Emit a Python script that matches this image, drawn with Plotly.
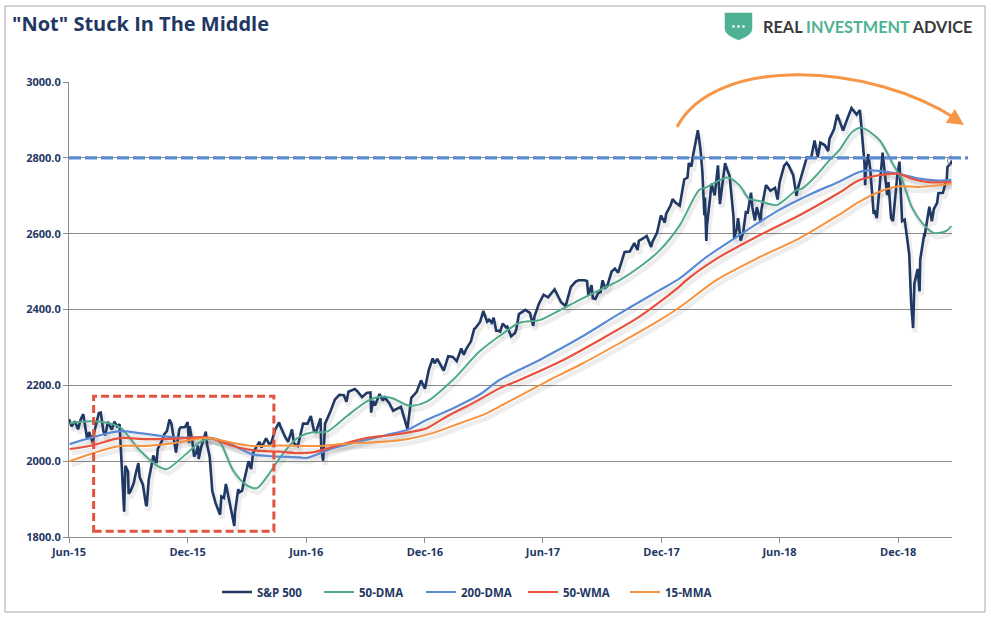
import plotly.graph_objects as go
import pandas as pd

# ---------------- DATA ----------------
sp_dates = [
    "2015-06-01","2015-06-05","2015-06-10","2015-06-15","2015-06-19","2015-06-23","2015-06-29","2015-07-02",
    "2015-07-08","2015-07-10","2015-07-17","2015-07-20","2015-07-24","2015-07-27","2015-07-31","2015-08-06",
    "2015-08-10","2015-08-14","2015-08-18","2015-08-20","2015-08-21","2015-08-24","2015-08-25","2015-08-27",
    "2015-08-31","2015-09-01","2015-09-04","2015-09-09","2015-09-11","2015-09-16","2015-09-18","2015-09-23",
    "2015-09-28","2015-09-29","2015-10-02","2015-10-07","2015-10-09","2015-10-14","2015-10-16","2015-10-22",
    "2015-10-26","2015-10-30","2015-11-03","2015-11-06","2015-11-13","2015-11-18","2015-11-20","2015-11-27",
    "2015-12-01","2015-12-03","2015-12-04","2015-12-08","2015-12-11","2015-12-14","2015-12-17","2015-12-18",
    "2015-12-22","2015-12-29","2015-12-31",
    "2016-01-04","2016-01-07","2016-01-08","2016-01-13","2016-01-15","2016-01-20","2016-01-22","2016-01-26",
    "2016-01-29","2016-02-02","2016-02-05","2016-02-08","2016-02-11","2016-02-12","2016-02-17","2016-02-19",
    "2016-02-23","2016-02-26","2016-03-01","2016-03-04","2016-03-08","2016-03-11","2016-03-17","2016-03-21",
    "2016-03-24","2016-03-31","2016-04-05","2016-04-08","2016-04-14","2016-04-20","2016-04-22","2016-04-29",
    "2016-05-04","2016-05-10","2016-05-13","2016-05-19","2016-05-24","2016-05-27","2016-06-03","2016-06-08",
    "2016-06-13","2016-06-16","2016-06-23","2016-06-24","2016-06-27","2016-06-30","2016-07-08","2016-07-12",
    "2016-07-15","2016-07-22","2016-07-29","2016-08-02","2016-08-05","2016-08-15","2016-08-19","2016-08-26",
    "2016-09-02","2016-09-08","2016-09-09","2016-09-12","2016-09-15","2016-09-22","2016-09-27","2016-09-30",
    "2016-10-07","2016-10-13","2016-10-21","2016-10-25","2016-10-28","2016-11-02","2016-11-04","2016-11-08",
    "2016-11-10","2016-11-18","2016-11-25","2016-12-01","2016-12-07","2016-12-13","2016-12-16","2016-12-20",
    "2016-12-30",
    "2017-01-06","2017-01-13","2017-01-19","2017-01-26","2017-01-30","2017-02-03","2017-02-10","2017-02-15",
    "2017-02-17","2017-02-24","2017-03-01","2017-03-07","2017-03-10","2017-03-14","2017-03-17","2017-03-21",
    "2017-03-24","2017-03-27","2017-03-31","2017-04-05","2017-04-07","2017-04-13","2017-04-19","2017-04-21",
    "2017-04-25","2017-05-05","2017-05-12","2017-05-17","2017-05-19","2017-05-26","2017-06-02","2017-06-09",
    "2017-06-19","2017-06-23","2017-06-29","2017-07-06","2017-07-14","2017-07-21","2017-07-26","2017-08-04",
    "2017-08-08","2017-08-10","2017-08-15","2017-08-17","2017-08-21","2017-08-25","2017-08-29","2017-09-01",
    "2017-09-05","2017-09-08","2017-09-15","2017-09-20","2017-09-25","2017-09-29","2017-10-05","2017-10-13",
    "2017-10-20","2017-10-25","2017-10-27","2017-11-03","2017-11-08","2017-11-15","2017-11-17","2017-11-24",
    "2017-11-30","2017-12-06","2017-12-08","2017-12-15","2017-12-18","2017-12-22","2017-12-29",
    "2018-01-05","2018-01-10","2018-01-12","2018-01-16","2018-01-19","2018-01-26","2018-01-30","2018-02-02",
    "2018-02-05","2018-02-06","2018-02-08","2018-02-09","2018-02-14","2018-02-16","2018-02-21","2018-02-26",
    "2018-03-01","2018-03-02","2018-03-09","2018-03-13","2018-03-16","2018-03-22","2018-03-23","2018-03-27",
    "2018-03-29","2018-04-02","2018-04-06","2018-04-10","2018-04-13","2018-04-18","2018-04-20","2018-04-24",
    "2018-04-27","2018-05-03","2018-05-04","2018-05-11","2018-05-18","2018-05-25","2018-05-29","2018-06-01",
    "2018-06-08","2018-06-12","2018-06-15","2018-06-22","2018-06-27","2018-06-29","2018-07-06","2018-07-13",
    "2018-07-20","2018-07-25","2018-07-30","2018-08-03","2018-08-10","2018-08-15","2018-08-17","2018-08-24",
    "2018-08-29","2018-09-07","2018-09-14","2018-09-20","2018-09-28","2018-10-03","2018-10-05","2018-10-10",
    "2018-10-11","2018-10-12","2018-10-16","2018-10-19","2018-10-24","2018-10-26","2018-10-29","2018-11-02",
    "2018-11-07","2018-11-09","2018-11-14","2018-11-16","2018-11-20","2018-11-23","2018-11-30","2018-12-03",
    "2018-12-07","2018-12-11","2018-12-14","2018-12-18","2018-12-21","2018-12-24","2018-12-26","2018-12-28",
    "2018-12-31",
    "2019-01-03","2019-01-04","2019-01-10","2019-01-11","2019-01-18","2019-01-22","2019-01-25","2019-01-30",
    "2019-02-01","2019-02-07","2019-02-08","2019-02-14","2019-02-15","2019-02-20","2019-02-22",
]
sp_values = [
    2111,2092,2105,2084,2110,2124,2058,2077,
    2047,2077,2127,2128,2079,2068,2104,2083,
    2104,2092,2097,2035,1971,1893,1867,1988,
    1972,1914,1921,1943,1961,1995,1958,1938,
    1882,1884,1951,1995,2015,1995,2033,2052,
    2071,2079,2110,2099,2023,2083,2089,2090,
    2103,2049,2092,2056,2012,2022,2041,2006,
    2038,2078,2044,
    2012,1943,1922,1890,1880,1859,1907,1903,
    1940,1903,1880,1853,1829,1865,1926,1918,
    1922,1948,1978,2000,1979,2022,2041,2051,
    2036,2060,2045,2048,2083,2102,2092,2065,
    2051,2084,2047,2040,2077,2099,2099,2119,
    2079,2077,2113,2037,2001,2099,2130,2152,
    2162,2175,2174,2157,2183,2190,2184,2169,
    2180,2181,2128,2159,2147,2177,2160,2168,
    2153,2133,2141,2143,2126,2098,2085,2140,
    2167,2182,2213,2191,2241,2271,2258,2270,
    2239,
    2277,2275,2264,2297,2281,2297,2316,2349,
    2351,2367,2396,2368,2373,2365,2378,2344,
    2344,2342,2363,2353,2355,2329,2338,2349,
    2388,2399,2391,2357,2382,2416,2439,2432,
    2453,2438,2419,2409,2459,2473,2477,2477,
    2475,2438,2464,2430,2428,2443,2446,2477,
    2457,2461,2500,2508,2497,2519,2552,2553,
    2575,2557,2581,2588,2594,2565,2579,2602,
    2648,2629,2652,2675,2691,2683,2674,
    2743,2748,2786,2777,2810,2873,2823,2762,
    2649,2695,2581,2620,2698,2732,2701,2780,
    2678,2691,2786,2765,2752,2644,2588,2613,
    2641,2582,2604,2657,2656,2708,2670,2635,
    2670,2630,2663,2728,2713,2721,2690,2735,
    2779,2787,2780,2755,2700,2718,2760,2801,
    2802,2846,2803,2840,2833,2818,2850,2875,
    2914,2872,2905,2931,2914,2926,2886,2786,
    2728,2767,2810,2768,2656,2658,2641,2723,
    2814,2781,2702,2736,2641,2633,2760,2790,
    2633,2637,2600,2546,2417,2351,2468,2486,
    2507,
    2448,2532,2597,2596,2671,2633,2665,2681,
    2707,2707,2708,2746,2776,2785,2793,
]

dma50_dates = [
    "2015-06-02","2015-07-08","2015-08-18","2015-09-18","2015-10-19","2015-10-30","2015-11-30","2015-12-20",
    "2016-01-09","2016-01-20","2016-02-09","2016-03-01","2016-03-17","2016-04-01","2016-04-21","2016-05-11",
    "2016-05-22","2016-06-11","2016-07-03","2016-08-02","2016-09-02","2016-09-22","2016-10-12","2016-11-03",
    "2016-11-12","2016-12-04","2017-01-13","2017-02-23","2017-03-26","2017-04-26","2017-05-27","2017-06-27",
    "2017-07-27","2017-08-27","2017-09-27","2017-10-28","2017-11-28","2017-12-29","2018-01-28","2018-02-08",
    "2018-03-12","2018-03-31","2018-04-15","2018-05-01","2018-05-27","2018-06-11","2018-06-27","2018-07-06",
    "2018-07-28","2018-08-17","2018-09-01","2018-09-21","2018-10-06","2018-11-02","2018-11-22","2018-12-07",
    "2018-12-22","2019-01-07","2019-01-25","2019-02-13","2019-02-21",
]
dma50_values = [
    2100,2105,2090,2029,1984,1979,2021,2050,
    2060,2050,1976,1937,1929,1958,2008,2050,
    2065,2076,2078,2118,2157,2170,2166,2148,
    2146,2157,2214,2289,2330,2365,2372,2398,
    2425,2451,2477,2512,2556,2622,2715,2722,
    2748,2728,2692,2686,2675,2692,2715,2719,
    2754,2794,2820,2868,2879,2847,2786,2741,
    2670,2628,2602,2607,2620,
]

dma200_dates = [
    "2015-06-02","2015-08-18","2015-09-18","2015-11-08","2016-01-09","2016-02-09","2016-03-10","2016-04-10",
    "2016-05-22","2016-06-01","2016-07-12","2016-08-22","2016-10-03","2016-11-03","2016-12-04","2017-01-13",
    "2017-02-23","2017-03-26","2017-05-27","2017-07-27","2017-09-27","2017-11-28","2017-12-29","2018-02-08",
    "2018-03-31","2018-05-31","2018-07-21","2018-09-01","2018-10-01","2018-10-16","2018-12-02","2019-01-02",
    "2019-02-02","2019-02-21",
]
dma200_values = [
    2045,2079,2074,2063,2060,2042,2018,2013,
    2010,2008,2034,2052,2069,2082,2109,2139,
    2175,2214,2267,2324,2389,2451,2482,2538,
    2596,2662,2706,2737,2762,2767,2758,2745,
    2740,2742,
]

wma50_dates = [
    "2015-06-02","2015-07-08","2015-08-18","2015-09-29","2015-11-30","2015-12-30","2016-02-09","2016-03-10",
    "2016-04-21","2016-05-22","2016-06-11","2016-07-22","2016-09-02","2016-10-12","2016-11-12","2016-12-04",
    "2017-01-04","2017-02-13","2017-03-26","2017-04-26","2017-06-27","2017-08-27","2017-10-28","2017-12-29",
    "2018-01-08","2018-02-28","2018-05-01","2018-07-01","2018-09-01","2018-10-01","2018-11-01","2018-12-02",
    "2018-12-22","2019-01-17","2019-02-21",
]
wma50_values = [
    2032,2042,2061,2058,2061,2063,2040,2029,
    2025,2021,2023,2043,2061,2069,2078,2087,
    2118,2153,2192,2214,2262,2319,2381,2461,
    2477,2538,2596,2648,2708,2740,2754,2758,
    2745,2736,2736,
]

mma15_dates = [
    "2015-06-02","2015-07-08","2015-08-18","2015-09-29","2015-11-08","2015-12-30","2016-02-09","2016-03-10",
    "2016-04-21","2016-06-17","2016-08-02","2016-10-03","2016-11-03","2016-12-13","2017-01-24","2017-03-06",
    "2017-03-26","2017-06-11","2017-07-27","2017-09-27","2017-11-28","2017-12-29","2018-02-23","2018-05-01",
    "2018-07-01","2018-09-01","2018-10-01","2018-11-01","2018-12-02","2019-01-02","2019-02-21",
]
mma15_values = [
    2000,2021,2040,2040,2047,2061,2048,2040,
    2041,2040,2046,2052,2058,2074,2100,2126,
    2144,2214,2253,2311,2372,2406,2477,2538,
    2587,2650,2683,2710,2725,2723,2732,
]

y_ticks = [1800, 2000, 2200, 2400, 2600, 2800, 3000]
resistance_level = 2800
box_dates = ["2015-07-09", "2016-04-12"]
box_levels = [1815, 2171]

series = [
    ("S&P 500", sp_dates, sp_values, "#1F3864", 2.6, "linear"),
    ("50-DMA", dma50_dates, dma50_values, "#4FA98B", 2.0, "spline"),
    ("200-DMA", dma200_dates, dma200_values, "#5B8AD4", 2.2, "spline"),
    ("50-WMA", wma50_dates, wma50_values, "#E8513C", 2.2, "spline"),
    ("15-MMA", mma15_dates, mma15_values, "#F7923F", 2.0, "spline"),
]

# ---------------- LAYOUT GEOMETRY ----------------
W, H = 991, 621
L, R, T, B = 69, 39, 82, 84
PW, PH = W - L - R, H - T - B
X0, X1 = pd.Timestamp("2015-06-01"), pd.Timestamp("2019-02-22")
Y0, Y1 = 1800, 3000
# drop-shadow offset (pixels)
SX, SY = 2, 4
dpp = (X1 - X0) / PW
upp = (Y1 - Y0) / PH
xr_sh = [(X0 - dpp * SX).strftime("%Y-%m-%d %H:%M:%S"), (X1 - dpp * SX).strftime("%Y-%m-%d %H:%M:%S")]
yr_sh = [Y0 + upp * SY, Y1 + upp * SY]


def px(x):
    return (x - L) / PW


def py(y):
    return (H - B - y) / PH


NAVY = "#1F3864"
FONT = "Open Sans"

fig = go.Figure()

# shadows (base, invisible axes)
for name, xs, ys, col, w, shp in series:
    fig.add_trace(go.Scatter(
        x=xs, y=ys, mode="lines", xaxis="x", yaxis="y", showlegend=False, hoverinfo="skip",
        line=dict(color="rgba(80,80,80,0.10)", width=w + 2.5, shape=shp, smoothing=0.8 if shp == "spline" else None),
    ))

# main lines
for name, xs, ys, col, w, shp in series:
    fig.add_trace(go.Scatter(
        x=xs, y=ys, mode="lines", name=name, xaxis="x2", yaxis="y2",
        line=dict(color=col, width=w, shape=shp, smoothing=0.8 if shp == "spline" else None),
    ))

# end-point circle
fig.add_trace(go.Scatter(
    x=[sp_dates[-1]], y=[sp_values[-1]], mode="markers", xaxis="x2", yaxis="y2", showlegend=False,
    marker=dict(size=9, color="rgba(255,255,255,0)", line=dict(color="#8a8a8a", width=1.2)),
))

shapes = []
# resistance line
shapes.append(dict(type="line", xref="paper", yref="y2", x0=0, x1=px(968), y0=resistance_level, y1=resistance_level,
                   line=dict(color="#5B8AD4", width=3.2, dash="12px,4px"), layer="above"))
# red dashed box
shapes.append(dict(type="rect", xref="x2", yref="y2", x0=box_dates[0], x1=box_dates[1],
                   y0=box_levels[0], y1=box_levels[1],
                   line=dict(color="#E0533F", width=3, dash="8px,4px"), layer="above"))
# orange arc
arc = "M{:.5f},{:.5f} C{:.5f},{:.5f} {:.5f},{:.5f} {:.5f},{:.5f}".format(
    px(677), py(127), px(715), py(55), px(870), py(62), px(958), py(120))
shapes.append(dict(type="path", xref="paper", yref="paper", path=arc,
                   line=dict(color="#F79646", width=3)))
# outer border
shapes.append(dict(type="rect", xref="paper", yref="paper", x0=px(5), x1=px(985), y0=py(612), y1=py(6),
                   line=dict(color="#A6A6A6", width=1)))
# logo shield
shield = "M{},{} L{},{} L{},{} Q{},{} {},{} Q{},{} {},{} Z".format(
    f"{px(725):.5f}", f"{py(13):.5f}", f"{px(752):.5f}", f"{py(13):.5f}",
    f"{px(752):.5f}", f"{py(29):.5f}", f"{px(752):.5f}", f"{py(35):.5f}",
    f"{px(738.5):.5f}", f"{py(40):.5f}", f"{px(725):.5f}", f"{py(35):.5f}",
    f"{px(725):.5f}", f"{py(29):.5f}")
shapes.append(dict(type="path", xref="paper", yref="paper", path=shield,
                   fillcolor="#4FB193", line=dict(color="#4FB193", width=0.5)))
for cx in (733.5, 738.5, 743.5):
    shapes.append(dict(type="circle", xref="paper", yref="paper",
                       x0=px(cx - 1.3), x1=px(cx + 1.3), y0=py(27.8), y1=py(25.2),
                       fillcolor="white", line=dict(width=0)))

annotations = [
    dict(xref="paper", yref="paper", x=px(10), y=py(23), xanchor="left", yanchor="middle",
         text="\"Not\" Stuck In The Middle", showarrow=False,
         font=dict(family=FONT, size=20, color=NAVY, weight="bold")),
    dict(xref="paper", yref="paper", x=px(761), y=py(26), xanchor="left", yanchor="middle",
         text='<span style="color:#3a3a3a">REAL </span><span style="color:#4DB391">INVESTMENT</span>'
              '<span style="color:#3a3a3a"> ADVICE</span>',
         showarrow=False, font=dict(family="Lato", size=16.3, weight="bold")),
    # arrow head
    dict(xref="paper", yref="paper", x=px(964), y=py(125), ax=-12, ay=-8, axref="pixel", ayref="pixel",
         text="", showarrow=True, arrowhead=2, arrowsize=1.1, arrowwidth=3, arrowcolor="#F79646"),
]

fig.update_layout(
    width=W, height=H, autosize=False,
    margin=dict(l=L, r=R, t=T, b=B),
    paper_bgcolor="white", plot_bgcolor="white",
    font=dict(family=FONT, color=NAVY),
    xaxis=dict(range=xr_sh, visible=False, type="date"),
    yaxis=dict(range=yr_sh, visible=False),
    xaxis2=dict(
        overlaying="x", side="bottom", type="date",
        range=[X0.strftime("%Y-%m-%d"), X1.strftime("%Y-%m-%d")],
        tickformat="%b-%y", dtick="M6", tick0="2015-06-01",
        showgrid=False, showline=True, linecolor="#8C8C8C", linewidth=1,
        ticks="outside", ticklen=5, tickcolor="#8C8C8C",
        tickfont=dict(family=FONT, size=11, color=NAVY, weight="bold"),
        zeroline=False,
    ),
    yaxis2=dict(
        overlaying="y", side="left",
        range=[Y0, Y1], tickvals=y_ticks, tickformat=".1f",
        showgrid=True, gridcolor="#8C8C8C", gridwidth=1,
        showline=True, linecolor="#8C8C8C", linewidth=1,
        ticks="outside", ticklen=5, tickcolor="#8C8C8C",
        tickfont=dict(family=FONT, size=11, color=NAVY, weight="bold"),
        zeroline=False,
    ),
    legend=dict(
        orientation="h", x=px(472), xanchor="center", y=py(592), yanchor="middle",
        font=dict(family=FONT, size=11.5, color=NAVY, weight="bold"),
        itemwidth=30, entrywidth=57, bgcolor="rgba(0,0,0,0)",
    ),
    shapes=shapes,
    annotations=annotations,
    showlegend=True,
)

fig.write_html("out.html", config={"displayModeBar": False},
               post_script="document.body.style.margin='0';document.body.style.overflow='hidden';")
